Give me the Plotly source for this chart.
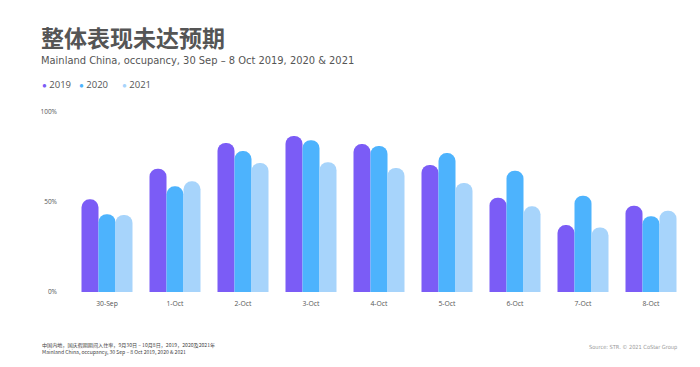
import plotly.graph_objects as go

categories = ["30-Sep", "1-Oct", "2-Oct", "3-Oct", "4-Oct", "5-Oct", "6-Oct", "7-Oct", "8-Oct"]
occ_2019 = [51.5, 68.5, 82.8, 86.7, 82.2, 70.6, 52.4, 37.2, 47.9]
occ_2020 = [43.2, 58.7, 78.3, 84.3, 81.1, 77.2, 67.4, 53.5, 42.1]
occ_2021 = [42.8, 61.5, 71.7, 72.1, 68.9, 60.6, 47.6, 35.9, 45.2]
series_names = ["2019", "2020", "2021"]
colors = ["#7b5cf6", "#4db3fd", "#a7d4fb"]
y_ticks = [0, 50, 100]
y_tick_labels = ["0%", "50%", "100%"]

# page offset (browser body margin)
OFF = 8
L, T, PW, PH = 73 - OFF, 112 - OFF, 612, 180


def px(x):
    return (x - OFF - L) / PW


def py(y):
    return 1 - (y - OFF - T) / PH


fig = go.Figure()
for name, vals, col in zip(series_names, [occ_2019, occ_2020, occ_2021], colors):
    fig.add_trace(go.Bar(x=categories, y=vals, name=name, marker=dict(color=col, line=dict(width=0)),
                         showlegend=False))

fig.update_layout(
    width=700, height=367,
    margin=dict(l=L, r=700 - L - PW, t=T, b=367 - T - PH),
    paper_bgcolor="white", plot_bgcolor="white",
    barmode="group", bargap=0.25, bargroupgap=0,
    barcornerradius="50%",
    font=dict(family="Open Sans, sans-serif", color="#555555", size=7),
    xaxis=dict(showgrid=False, zeroline=False, showline=False, ticks="", ticklabelstandoff=6,
               tickfont=dict(size=6.8, color="#555555")),
    yaxis=dict(range=[0, 100], tickvals=y_ticks, ticktext=y_tick_labels, showgrid=False,
               zeroline=False, showline=False, ticks="", ticklabelstandoff=15,
               tickfont=dict(size=6.5, color="#555555")),
)

fig.add_annotation(text="<b>整体表现未达预期</b>", xref="paper", yref="paper",
                   x=px(39), y=py(37), xanchor="left", yanchor="middle",
                   showarrow=False, font=dict(family="Noto Sans CJK SC", size=23, color="#555555"))
fig.add_annotation(text="Mainland China, occupancy, 30 Sep – 8 Oct 2019, 2020 & 2021", xref="paper", yref="paper",
                   x=px(39), y=py(60), xanchor="left", yanchor="middle",
                   showarrow=False, font=dict(family="DejaVu Sans Condensed, Roboto", size=11, color="#555555"))
legend_x = [40, 77, 120]
for name, col, lx in zip(series_names, colors, legend_x):
    fig.add_annotation(text=f"<span style='color:{col};font-size:8px'>●</span> {name}", xref="paper", yref="paper",
                       x=px(lx), y=py(84), xanchor="left", yanchor="middle",
                       showarrow=False, font=dict(family="Open Sans", size=9.5, color="#555555"))
fig.add_annotation(text="中国内地，国庆假期期间入住率，9月30日 – 10月8日，2019，2020及2021年<br>Mainland China, occupancy, 30 Sep – 8 Oct 2019, 2020 & 2021",
                   xref="paper", yref="paper", x=px(40), y=py(348),
                   xanchor="left", yanchor="middle", align="left", showarrow=False,
                   font=dict(family="Noto Sans CJK SC", size=5.1, color="#444444"))
fig.add_annotation(text="Source: STR. © 2021 CoStar Group", xref="paper", yref="paper",
                   x=px(679), y=py(347), xanchor="right", yanchor="middle",
                   showarrow=False, font=dict(family="DejaVu Sans Condensed, Roboto", size=5.6, color="#999999"))

fig.write_html("out.html")
